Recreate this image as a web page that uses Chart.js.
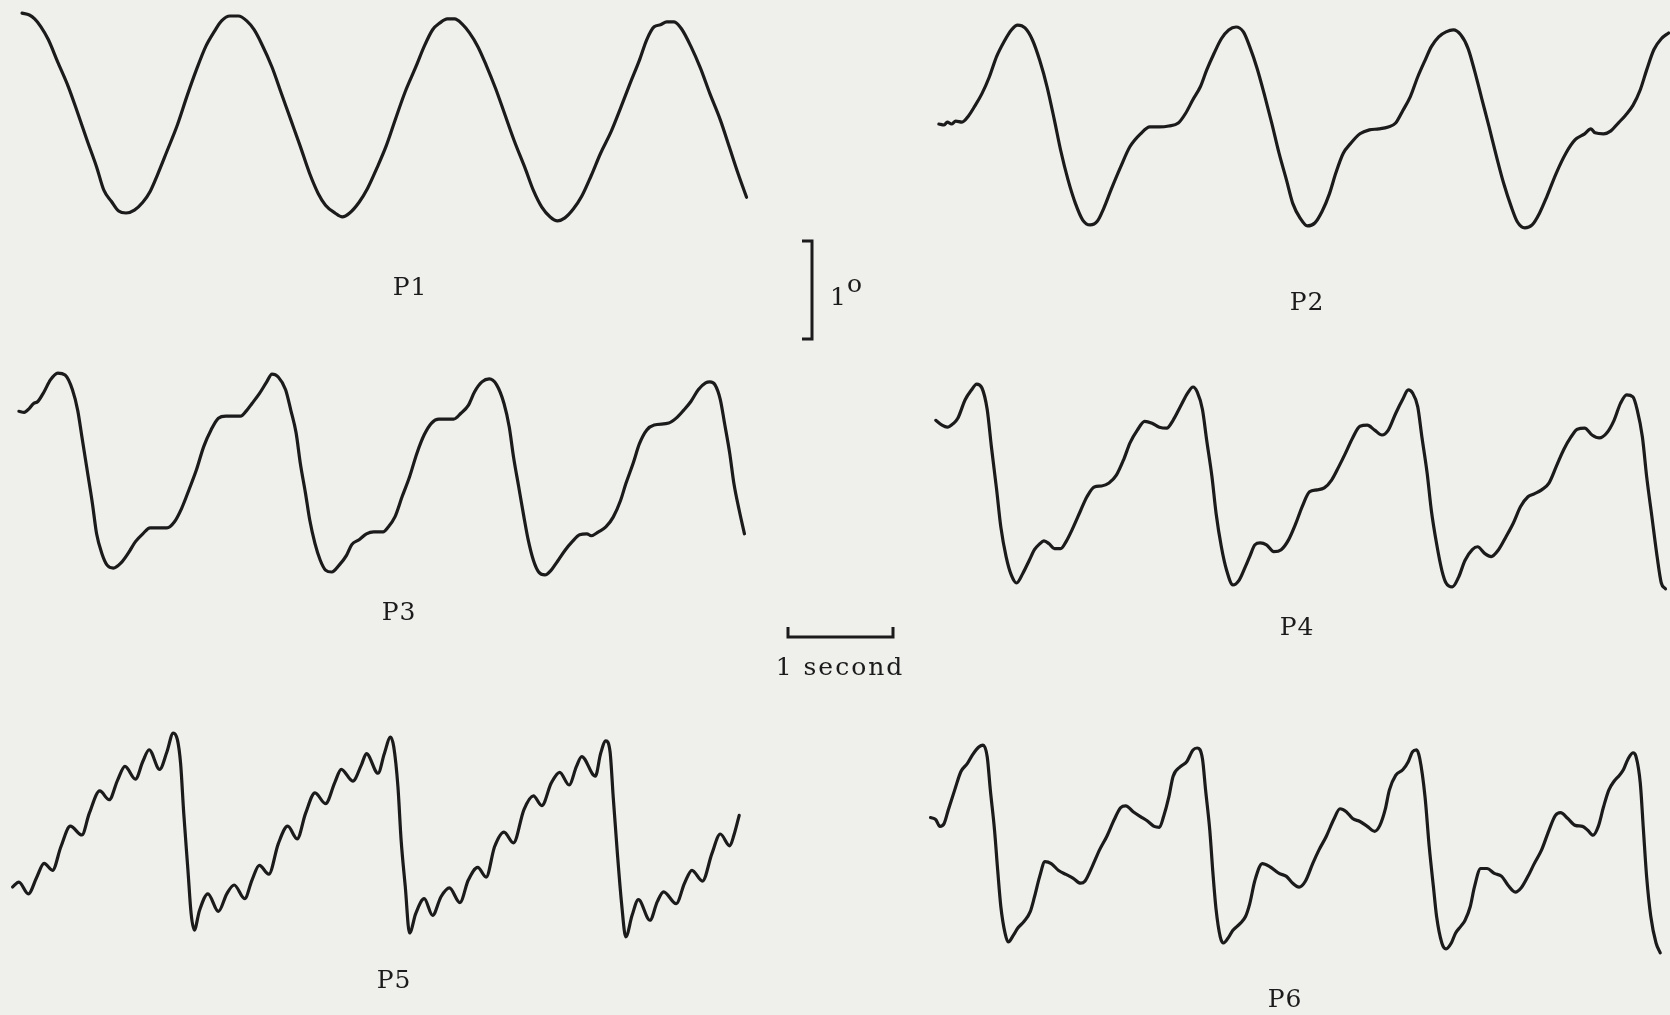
<!DOCTYPE html>
<html>
<head>
<meta charset="utf-8">
<script src="https://cdn.jsdelivr.net/npm/chart.js@4.4.0/dist/chart.umd.min.js"></script>
<style>
  html, body { margin: 0; padding: 0; background: #efefec; }
  #wrap { position: relative; width: 1670px; height: 1015px; }
</style>
</head>
<body>
<div id="wrap"><canvas id="traces" width="1670" height="1015"></canvas></div>
<script>
// time in seconds from the left edge of each panel, angle in degrees from the panel midline
const p1Time = [0.21,0.28,0.33,0.39,0.46,0.55,0.65,0.74,0.83,0.92,0.99,1.06,1.13,1.20,1.28,1.36,1.43,1.50,1.59,1.69,1.78,1.87,1.96,2.04,2.11,2.19,2.27,2.35,2.42,2.49,2.59,2.68,2.77,2.86,2.95,3.03,3.10,3.19,3.26,3.33,3.42,3.50,3.59,3.68,3.77,3.86,3.96,4.04,4.12,4.19,4.26,4.33,4.40,4.47,4.55,4.63,4.72,4.81,4.90,5.00,5.08,5.16,5.24,5.31,5.38,5.46,5.54,5.63,5.72,5.82,5.91,6.00,6.09,6.16,6.23,6.29,6.35,6.42,6.49,6.58,6.67,6.76,6.86,6.95,7.03,7.11];
const p1Angle = [1.04,1.02,0.98,0.90,0.77,0.54,0.29,0.02,-0.26,-0.53,-0.77,-0.88,-0.98,-1.00,-0.97,-0.89,-0.78,-0.61,-0.37,-0.10,0.19,0.46,0.70,0.85,0.96,1.01,1.01,0.96,0.87,0.73,0.49,0.22,-0.05,-0.32,-0.60,-0.80,-0.92,-1.00,-1.04,-1.00,-0.89,-0.75,-0.54,-0.31,-0.03,0.24,0.49,0.70,0.87,0.94,0.98,0.98,0.93,0.84,0.70,0.51,0.27,0.00,-0.27,-0.54,-0.77,-0.94,-1.04,-1.08,-1.05,-0.96,-0.83,-0.62,-0.39,-0.17,0.07,0.32,0.56,0.77,0.90,0.92,0.95,0.95,0.88,0.70,0.48,0.22,-0.05,-0.34,-0.60,-0.84];

const p2Time = [0.18,0.23,0.26,0.30,0.34,0.40,0.46,0.52,0.59,0.66,0.73,0.80,0.87,0.93,1.00,1.07,1.14,1.21,1.28,1.34,1.41,1.48,1.55,1.62,1.69,1.75,1.82,1.91,2.00,2.10,2.19,2.28,2.37,2.46,2.53,2.60,2.67,2.73,2.80,2.87,2.94,3.01,3.08,3.14,3.21,3.28,3.35,3.42,3.49,3.55,3.62,3.69,3.76,3.83,3.90,3.96,4.03,4.10,4.19,4.28,4.37,4.46,4.53,4.60,4.67,4.74,4.81,4.87,4.94,5.01,5.08,5.15,5.22,5.28,5.35,5.42,5.49,5.56,5.63,5.69,5.76,5.83,5.90,5.97,6.06,6.15,6.24,6.33,6.39,6.43,6.51,6.58,6.65,6.72,6.79,6.86,6.92,6.99,7.06,7.13];
const p2Angle = [0.01,0.00,0.03,0.01,0.04,0.03,0.09,0.19,0.32,0.49,0.70,0.85,0.97,1.02,0.99,0.87,0.66,0.39,0.05,-0.26,-0.56,-0.80,-0.97,-1.02,-0.98,-0.85,-0.66,-0.43,-0.22,-0.09,-0.02,-0.02,-0.01,0.02,0.12,0.26,0.39,0.56,0.73,0.88,0.97,1.00,0.95,0.80,0.58,0.31,0.02,-0.29,-0.56,-0.80,-0.95,-1.03,-1.00,-0.88,-0.70,-0.49,-0.29,-0.19,-0.09,-0.05,-0.04,-0.02,0.02,0.15,0.29,0.49,0.66,0.80,0.90,0.95,0.97,0.92,0.78,0.56,0.27,-0.02,-0.32,-0.60,-0.83,-0.99,-1.05,-1.02,-0.90,-0.73,-0.49,-0.29,-0.15,-0.09,-0.04,-0.08,-0.09,-0.06,0.02,0.10,0.20,0.36,0.56,0.77,0.88,0.94];

const p3Time = [0.18,0.23,0.28,0.32,0.36,0.42,0.48,0.55,0.62,0.69,0.74,0.78,0.83,0.88,0.92,0.97,1.02,1.08,1.15,1.22,1.29,1.36,1.43,1.52,1.59,1.66,1.73,1.80,1.87,1.94,2.01,2.08,2.15,2.29,2.35,2.40,2.47,2.54,2.59,2.65,2.72,2.77,2.82,2.86,2.91,2.95,3.00,3.05,3.10,3.16,3.23,3.30,3.35,3.42,3.49,3.56,3.65,3.69,3.76,3.83,3.90,3.97,4.04,4.11,4.18,4.32,4.39,4.46,4.52,4.59,4.66,4.73,4.80,4.85,4.89,4.94,4.99,5.03,5.08,5.13,5.19,5.25,5.31,5.38,5.45,5.52,5.59,5.63,5.70,5.77,5.84,5.91,5.96,6.03,6.09,6.16,6.23,6.37,6.44,6.51,6.58,6.65,6.72,6.76,6.81,6.86,6.90,6.95,6.99,7.04,7.09];
const p3Angle = [0.65,0.64,0.68,0.73,0.75,0.85,0.97,1.04,1.02,0.87,0.66,0.39,0.05,-0.29,-0.60,-0.80,-0.92,-0.95,-0.90,-0.80,-0.68,-0.60,-0.54,-0.54,-0.54,-0.48,-0.34,-0.15,0.05,0.29,0.46,0.58,0.60,0.60,0.66,0.73,0.83,0.95,1.03,1.00,0.87,0.66,0.43,0.12,-0.19,-0.46,-0.70,-0.87,-0.97,-0.99,-0.92,-0.82,-0.71,-0.66,-0.60,-0.58,-0.58,-0.54,-0.43,-0.22,-0.02,0.22,0.41,0.53,0.57,0.57,0.63,0.71,0.85,0.95,0.98,0.92,0.73,0.49,0.19,-0.12,-0.43,-0.66,-0.87,-0.99,-1.02,-0.97,-0.88,-0.77,-0.68,-0.61,-0.60,-0.62,-0.58,-0.53,-0.43,-0.26,-0.09,0.12,0.32,0.46,0.51,0.53,0.58,0.66,0.75,0.87,0.94,0.95,0.92,0.77,0.53,0.22,-0.09,-0.36,-0.60];

const p4Time = [0.15,0.21,0.26,0.32,0.36,0.43,0.49,0.54,0.59,0.64,0.68,0.73,0.77,0.82,0.87,0.92,0.98,1.04,1.09,1.14,1.18,1.23,1.28,1.34,1.39,1.46,1.53,1.59,1.66,1.73,1.80,1.87,1.94,2.00,2.07,2.14,2.21,2.28,2.35,2.41,2.48,2.55,2.60,2.64,2.69,2.73,2.78,2.82,2.87,2.92,2.98,3.04,3.10,3.14,3.19,3.24,3.30,3.37,3.44,3.51,3.58,3.64,3.71,3.78,3.85,3.92,3.99,4.05,4.12,4.19,4.26,4.33,4.40,4.46,4.53,4.60,4.65,4.69,4.74,4.78,4.83,4.87,4.92,4.97,5.01,5.07,5.13,5.19,5.26,5.31,5.38,5.44,5.51,5.58,5.65,5.72,5.79,5.85,5.92,5.99,6.06,6.13,6.20,6.26,6.33,6.40,6.47,6.54,6.61,6.67,6.73,6.79,6.83,6.88,6.92,6.97,7.02,7.06,7.10];
const p4Angle = [0.66,0.61,0.59,0.63,0.68,0.87,0.97,1.03,0.99,0.77,0.39,-0.05,-0.43,-0.73,-0.92,-1.00,-0.90,-0.77,-0.66,-0.60,-0.57,-0.60,-0.65,-0.65,-0.58,-0.43,-0.26,-0.12,-0.02,-0.01,0.02,0.10,0.26,0.43,0.56,0.65,0.63,0.59,0.58,0.66,0.80,0.94,1.00,0.95,0.77,0.46,0.09,-0.29,-0.63,-0.87,-1.02,-0.97,-0.83,-0.73,-0.61,-0.59,-0.61,-0.68,-0.66,-0.56,-0.39,-0.22,-0.07,-0.05,-0.03,0.05,0.19,0.32,0.48,0.60,0.61,0.56,0.51,0.56,0.73,0.88,0.97,0.94,0.80,0.49,0.12,-0.26,-0.60,-0.87,-1.00,-1.04,-0.94,-0.77,-0.66,-0.63,-0.70,-0.73,-0.66,-0.53,-0.39,-0.22,-0.12,-0.09,-0.05,0.02,0.19,0.36,0.49,0.57,0.58,0.51,0.48,0.53,0.66,0.83,0.92,0.90,0.77,0.49,0.09,-0.32,-0.73,-1.00,-1.06];

const p5Time = [0.12,0.18,0.27,0.35,0.42,0.50,0.58,0.67,0.78,0.85,0.95,1.04,1.12,1.19,1.29,1.36,1.42,1.52,1.59,1.65,1.69,1.72,1.75,1.79,1.82,1.85,1.90,1.98,2.08,2.16,2.23,2.33,2.40,2.47,2.56,2.65,2.74,2.83,2.91,3.00,3.10,3.19,3.25,3.36,3.44,3.49,3.60,3.66,3.72,3.75,3.79,3.82,3.86,3.90,3.96,4.04,4.12,4.20,4.28,4.38,4.46,4.55,4.63,4.71,4.80,4.89,4.99,5.08,5.16,5.25,5.33,5.42,5.49,5.54,5.67,5.72,5.77,5.81,5.84,5.88,5.92,5.96,6.02,6.08,6.19,6.26,6.32,6.44,6.52,6.59,6.69,6.78,6.86,6.95,6.99,7.04];
const p5Angle = [-0.53,-0.48,-0.60,-0.43,-0.29,-0.36,-0.12,0.09,0.00,0.22,0.45,0.36,0.56,0.70,0.57,0.75,0.87,0.67,0.85,1.04,0.97,0.73,0.22,-0.36,-0.80,-0.97,-0.77,-0.60,-0.78,-0.60,-0.51,-0.65,-0.46,-0.31,-0.40,-0.09,0.09,-0.04,0.22,0.43,0.32,0.54,0.67,0.55,0.71,0.83,0.63,0.83,1.00,0.90,0.49,-0.05,-0.53,-1.00,-0.80,-0.65,-0.82,-0.63,-0.54,-0.69,-0.46,-0.33,-0.43,-0.12,0.03,-0.08,0.26,0.40,0.30,0.53,0.64,0.51,0.70,0.80,0.60,0.83,0.96,0.85,0.39,-0.19,-0.70,-1.04,-0.82,-0.66,-0.87,-0.68,-0.58,-0.70,-0.49,-0.36,-0.47,-0.19,0.01,-0.11,0.00,0.20];

const p6Time = [0.10,0.15,0.19,0.23,0.27,0.33,0.39,0.45,0.50,0.56,0.60,0.64,0.67,0.71,0.74,0.77,0.81,0.84,0.89,0.93,0.99,1.05,1.09,1.14,1.19,1.25,1.32,1.39,1.46,1.53,1.57,1.64,1.71,1.78,1.85,1.91,1.96,2.03,2.10,2.16,2.23,2.28,2.32,2.37,2.41,2.48,2.54,2.60,2.64,2.69,2.72,2.76,2.79,2.82,2.86,2.89,2.94,2.98,3.05,3.10,3.14,3.19,3.26,3.33,3.42,3.49,3.55,3.61,3.67,3.74,3.80,3.87,3.94,4.00,4.06,4.12,4.19,4.26,4.33,4.38,4.43,4.47,4.53,4.60,4.65,4.69,4.73,4.76,4.81,4.85,4.89,4.92,4.97,5.01,5.06,5.10,5.15,5.19,5.24,5.28,5.34,5.40,5.47,5.54,5.60,5.67,5.73,5.79,5.85,5.92,5.99,6.05,6.10,6.17,6.24,6.31,6.36,6.41,6.46,6.51,6.56,6.61,6.66,6.70,6.74,6.79,6.82,6.86,6.89,6.92,6.96,7.01,7.05];
const p6Angle = [0.28,0.26,0.19,0.22,0.36,0.56,0.75,0.83,0.92,1.00,1.02,0.90,0.56,0.15,-0.26,-0.63,-0.90,-0.99,-0.92,-0.85,-0.78,-0.68,-0.53,-0.32,-0.17,-0.19,-0.26,-0.30,-0.34,-0.39,-0.37,-0.22,-0.05,0.09,0.26,0.38,0.40,0.34,0.29,0.25,0.19,0.18,0.29,0.49,0.70,0.80,0.85,0.97,0.99,0.88,0.56,0.15,-0.29,-0.66,-0.94,-1.00,-0.94,-0.87,-0.80,-0.73,-0.60,-0.36,-0.19,-0.22,-0.29,-0.32,-0.39,-0.43,-0.37,-0.19,-0.05,0.09,0.26,0.37,0.34,0.27,0.24,0.19,0.14,0.20,0.36,0.56,0.71,0.77,0.85,0.95,0.97,0.88,0.49,-0.02,-0.43,-0.73,-1.00,-1.06,-1.00,-0.90,-0.83,-0.77,-0.63,-0.43,-0.24,-0.24,-0.29,-0.32,-0.41,-0.48,-0.43,-0.32,-0.19,-0.05,0.15,0.30,0.33,0.27,0.20,0.19,0.15,0.10,0.19,0.39,0.56,0.65,0.71,0.77,0.87,0.94,0.90,0.63,0.15,-0.32,-0.73,-1.00,-1.10];

const panelNames = ["P1", "P2", "P3", "P4", "P5", "P6"];

// calibration bars
const barSeconds = 1;
const barDegrees = 1;

// page scale
const W = 1670, H = 1015;
const PX_PER_SEC = 105;
const PX_PER_DEG = 98;
const ink = "#1b1b1b";

// where the panels sit on the page (pixels): left edge, midline, label spot
const panels = [
  { time: p1Time, angle: p1Angle, left: 0,   mid: 115, lx: 410,  ly: 295 },
  { time: p2Time, angle: p2Angle, left: 920, mid: 125, lx: 1307, ly: 310 },
  { time: p3Time, angle: p3Angle, left: 0,   mid: 475, lx: 399,  ly: 620 },
  { time: p4Time, angle: p4Angle, left: 920, mid: 485, lx: 1297, ly: 635 },
  { time: p5Time, angle: p5Angle, left: 0,   mid: 835, lx: 394,  ly: 988 },
  { time: p6Time, angle: p6Angle, left: 920, mid: 845, lx: 1285, ly: 1007 }
];

const toX = px => px / PX_PER_SEC;
const toY = px => -px / PX_PER_DEG;

const traceSets = panels.map((p, k) => ({
  label: panelNames[k],
  data: p.time.map((t, i) => ({ x: toX(p.left) + t, y: toY(p.mid) + p.angle[i] })),
  borderColor: ink,
  borderWidth: 3.2,
  pointRadius: 0,
  cubicInterpolationMode: "monotone",
  borderCapStyle: "round",
  borderJoinStyle: "round",
  fill: false
}));

// vertical 1 degree bracket and horizontal 1 second bar
const degX = 812, degTop = 241, secX = 788, secY = 637, tickPx = 10;
const barStyle = { borderColor: ink, borderWidth: 3, pointRadius: 0, tension: 0, fill: false,
                   borderCapStyle: "butt", borderJoinStyle: "miter" };
const degreeBar = Object.assign({
  label: "1 deg",
  data: [
    { x: toX(degX - tickPx), y: toY(degTop) },
    { x: toX(degX), y: toY(degTop) },
    { x: toX(degX), y: toY(degTop) - barDegrees },
    { x: toX(degX - tickPx), y: toY(degTop) - barDegrees }
  ]
}, barStyle);
const secondBar = Object.assign({
  label: "1 s",
  data: [
    { x: toX(secX), y: toY(secY - tickPx) },
    { x: toX(secX), y: toY(secY) },
    { x: toX(secX) + barSeconds, y: toY(secY) },
    { x: toX(secX) + barSeconds, y: toY(secY - tickPx) }
  ]
}, barStyle);

const labelFont = '25px "DejaVu Serif", "Liberation Serif", serif';

const captions = {
  id: "captions",
  afterDatasetsDraw(chart) {
    const ctx = chart.ctx;
    ctx.save();
    ctx.fillStyle = ink;
    ctx.font = labelFont;
    ctx.letterSpacing = "1px";
    ctx.textAlign = "center";
    ctx.textBaseline = "alphabetic";
    panels.forEach((p, k) => ctx.fillText(panelNames[k], p.lx, p.ly));
    ctx.letterSpacing = "2px";
    ctx.fillText("1 second", 840, 675);
    ctx.letterSpacing = "0px";
    ctx.textAlign = "left";
    ctx.fillText("1", 830, 305);
    ctx.fillText("o", 847, 292);
    ctx.restore();
  }
};

new Chart(document.getElementById("traces"), {
  type: "line",
  data: { datasets: traceSets.concat([degreeBar, secondBar]) },
  options: {
    responsive: false,
    animation: false,
    devicePixelRatio: 1,
    layout: { padding: 0 },
    plugins: { legend: { display: false }, tooltip: { enabled: false } },
    events: [],
    scales: {
      x: { type: "linear", display: false, min: 0, max: W / PX_PER_SEC },
      y: { type: "linear", display: false, min: -H / PX_PER_DEG, max: 0 }
    }
  },
  plugins: [captions]
});
</script>
</body>
</html>
